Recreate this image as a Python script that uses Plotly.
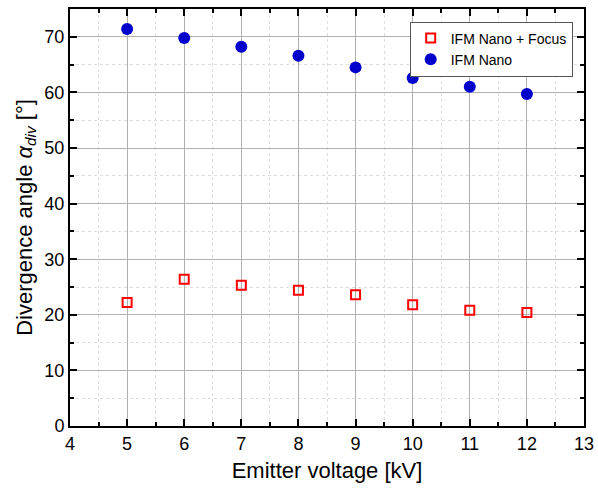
import plotly.graph_objects as go

voltage = [5, 6, 7, 8, 9, 10, 11, 12]
nano_focus = [22.2, 26.4, 25.3, 24.4, 23.6, 21.8, 20.8, 20.4]
nano = [71.4, 69.8, 68.2, 66.6, 64.5, 62.6, 61.0, 59.7]

fig = go.Figure()
fig.add_trace(go.Scatter(x=voltage, y=nano_focus, mode="markers", name="IFM Nano + Focus",
                         marker=dict(symbol="square-open", size=9, color="#FF0000",
                                     line=dict(width=2, color="#FF0000"))))
fig.add_trace(go.Scatter(x=voltage, y=nano, mode="markers", name="IFM Nano",
                         marker=dict(symbol="circle", size=12, color="#0000CC")))

axis_common = dict(showline=True, linecolor="black", linewidth=2, mirror="ticks",
                   ticks="inside", ticklen=7, tickwidth=2, tickcolor="black",
                   showgrid=True, gridcolor="#B0B0B0", gridwidth=1, zeroline=False,
                   tickfont=dict(size=18, color="black"))

fig.update_xaxes(range=[4, 13], dtick=1, tick0=4, ticklabeloverflow="allow",
                 title=dict(text="Emitter voltage [kV]", font=dict(size=22, color="black"), standoff=10),
                 minor=dict(dtick=0.5, ticks="inside", ticklen=4, tickwidth=1.5, tickcolor="black",
                            showgrid=True, gridcolor="#DDDDDD", griddash="dot", gridwidth=1),
                 **axis_common)
fig.update_yaxes(range=[0, 75], dtick=10, tick0=0,
                 title=dict(text="Divergence angle <i>α</i><sub><i>div</i></sub> [°]",
                            font=dict(size=22, color="black"), standoff=6),
                 minor=dict(dtick=5, ticks="inside", ticklen=4, tickwidth=1.5, tickcolor="black",
                            showgrid=True, gridcolor="#DDDDDD", griddash="dot", gridwidth=1),
                 **axis_common)

fig.update_layout(
    width=598, height=488,
    margin=dict(l=70, r=4, t=9, b=62),
    paper_bgcolor="white", plot_bgcolor="white",
    font=dict(family="Liberation Sans, Arial, sans-serif", color="black"),
    legend=dict(x=0.978, y=0.97, xanchor="right", yanchor="top",
                bordercolor="#555555", borderwidth=1, bgcolor="white",
                font=dict(size=14), tracegroupgap=0, itemsizing="trace",
                itemwidth=30),
    showlegend=True,
)

fig.write_html("out.html")
